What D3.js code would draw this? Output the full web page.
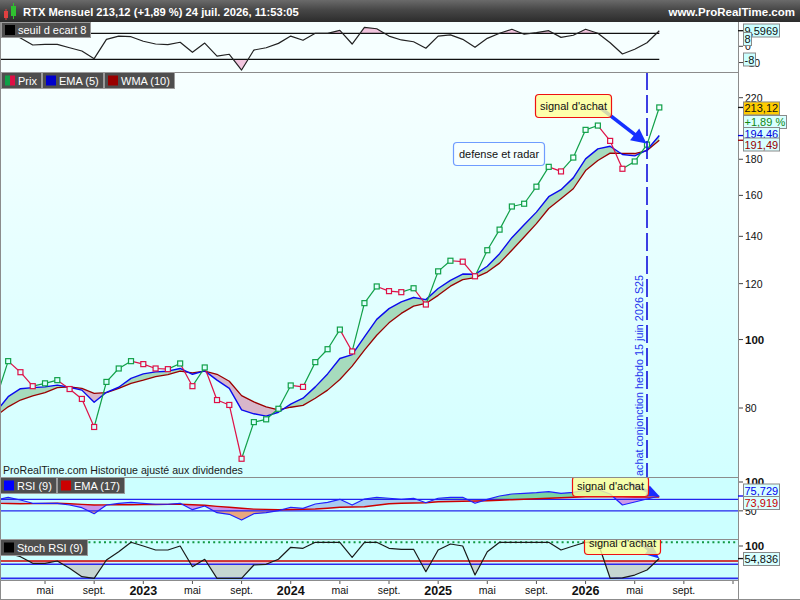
<!DOCTYPE html>
<html>
<head>
<meta charset="utf-8">
<script src="https://cdn.jsdelivr.net/npm/d3@7"></script>
<style>
  html, body { margin: 0; padding: 0; background: #fff; }
  svg { display: block; }
</style>
</head>
<body>
<svg id="chart" width="800" height="600"></svg>
<script>
// monthly bars, jan 2022 .. jul 2026
var months = [
  '2022-01','2022-02','2022-03','2022-04','2022-05','2022-06','2022-07','2022-08','2022-09','2022-10','2022-11','2022-12',
  '2023-01','2023-02','2023-03','2023-04','2023-05','2023-06','2023-07','2023-08','2023-09','2023-10','2023-11','2023-12',
  '2024-01','2024-02','2024-03','2024-04','2024-05','2024-06','2024-07','2024-08','2024-09','2024-10','2024-11','2024-12',
  '2025-01','2025-02','2025-03','2025-04','2025-05','2025-06','2025-07','2025-08','2025-09','2025-10','2025-11','2025-12',
  '2026-01','2026-02','2026-03','2026-04','2026-05','2026-06','2026-07'
];

var price = [
  82.3, 93.2, 89.9, 85.9, 86.7, 87.6, 85.1, 82.4, 75.2, 87.1, 91.0, 93.2,
  92.3, 91.0, 90.8, 92.5, 85.9, 91.3, 82.1, 80.8, 67.8, 76.4, 77.1, 79.8,
  86.1, 85.7, 92.9, 96.9, 103.3, 96.2, 112.6, 118.9, 117.1, 116.7, 118.2, 112.1,
  124.9, 129.3, 128.9, 122.9, 133.8, 143.1, 154.3, 155.7, 164.6, 175.6, 173.0, 181.0,
  198.1, 200.9, 191.1, 174.5, 178.7, 188.8, 213.12
];

var ema5 = [
  79.0, 83.0, 85.2, 85.5, 85.7, 86.2, 85.6, 84.8, 81.5, 84.2, 85.6, 88.1,
  89.4, 90.0, 90.2, 91.0, 89.3, 90.3, 87.6, 85.3, 79.5, 78.5, 77.9, 78.9,
  81.0, 82.6, 85.7, 89.4, 94.0, 95.2, 100.9, 106.8, 110.6, 113.1, 114.7, 113.9,
  118.1, 121.3, 123.8, 123.7, 127.0, 132.3, 139.4, 145.4, 151.5, 159.3, 163.0, 169.4,
  180.2, 186.2, 187.8, 182.8, 182.0, 185.5, 194.46
];

var wma10 = [
  77.9, 80.3, 82.1, 83.2, 84.1, 85.5, 85.7, 85.3, 83.9, 84.1, 85.3, 86.7,
  87.6, 88.6, 89.2, 90.2, 89.7, 90.2, 89.3, 87.3, 83.3, 81.6, 80.3, 79.5,
  80.2, 80.7, 82.6, 84.8, 87.8, 91.7, 96.6, 101.4, 105.6, 108.9, 111.5, 112.5,
  115.5, 119.0, 121.6, 122.4, 124.6, 128.3, 133.8, 139.7, 145.9, 153.3, 158.3, 163.5,
  173.5, 179.3, 183.6, 183.5, 183.4, 185.2, 191.49
];

var seuil = [
  3.0, 9.0, 5.1, 0.8, 1.2, 1.2, -0.9, -2.9, -7.6, 4.3, 6.3, 5.9,
  3.1, 1.4, 1.0, 2.5, -3.7, 2.0, -6.0, -4.9, -14.6, -2.3, -0.9, 1.8,
  6.3, 3.7, 8.0, 8.0, 9.8, 1.4, 11.7, 10.8, 6.3, 3.9, 2.8, -1.2,
  6.3, 7.0, 4.3, -0.6, 4.9, 8.0, 10.5, 7.4, 8.4, 9.6, 5.5, 6.8,
  10.5, 8.0, 2.2, -4.7, -1.8, 2.2, 9.5969
];

var rsi9 = [
  68.8, 73.5, 68.8, 63.1, 63.1, 63.1, 60.1, 55.5, 45.1, 60.1, 63.1, 64.8,
  63.1, 61.4, 61.4, 63.1, 52.0, 58.4, 46.8, 44.0, 34.1, 45.1, 46.8, 50.3,
  56.2, 54.4, 61.9, 64.8, 70.0, 60.1, 70.5, 73.5, 71.8, 70.0, 71.8, 64.1,
  71.8, 73.5, 73.5, 63.1, 70.0, 75.7, 79.2, 80.4, 81.5, 83.2, 80.4, 82.1,
  86.1, 87.0, 79.2, 60.1, 65.3, 70.5, 75.729
];

var rsiEma17 = [
  63.1, 62.7, 62.4, 62.6, 62.7, 63.1, 62.2, 61.2, 60.1, 60.3, 60.5, 60.7,
  60.8, 61.0, 61.2, 61.4, 60.5, 59.6, 57.7, 56.2, 54.4, 53.0, 52.5, 52.0,
  52.3, 52.9, 53.2, 54.6, 56.2, 56.7, 57.2, 59.8, 62.2, 63.1, 63.6, 64.1,
  65.7, 66.2, 66.7, 67.1, 67.6, 68.3, 69.3, 70.0, 70.9, 71.8, 72.6, 73.5,
  74.2, 74.5, 74.5, 74.2, 74.0, 73.8, 73.919
];

var stochRsi = [
  80, 70, 60, 41.7, 41.7, 48, 27.8, 4.4, 0, 50.8, 73.9, 100,
  89.7, 78.6, 78.6, 89.7, 32.2, 52.8, 0, 0, 0, 36.9, 38.9, 52.8,
  86.1, 83.3, 100, 100, 100, 58.3, 100, 100, 83.3, 80.6, 80.6, 18.3,
  78.6, 95.3, 89.7, 9.2, 73.9, 100, 100, 100, 100, 100, 78.6, 89.7,
  100, 100, 0, 1, 9, 23, 54.836
];

// x axis ticks (bar index) and their labels
var tickIdx = [4, 8, 12, 16, 20, 24, 28, 32, 36, 40, 44, 48, 52, 56, 60];
var tickLabels = ['mai', 'sept.', '2023', 'mai', 'sept.', '2024', 'mai', 'sept.', '2025', 'mai', 'sept.', '2026', 'mai', 'sept.', ''];

var priceTicks = [80, 100, 120, 140, 160, 180, 220];
var seuilTicks = [0, -10];
var seuilLevels = [8, -8];
var rsiLevels = [70, 50];
var stochLevels = {top: 100, mid: 48, low: 39, zero: 0};

(function() {
  var AX = 738
      , font = '"Liberation Sans", Arial, sans-serif'
      , svg = d3.select('#chart').attr('font-family', font).attr('font-size', 11)
      , defs = svg.append('defs')
      , n = months.length
      , idx = d3.range(n)
      , last = n - 1
      ;

  var P1 = {top: 22, bottom: 72}
      , P2 = {top: 72, bottom: 477}
      , P3 = {top: 477, bottom: 539}
      , P4 = {top: 539, bottom: 580}
      ;

  var x = d3.scaleLinear().domain([12, 60]).range([143.3, 733]);
  var yS = d3.scaleLinear().domain([-8, 8]).range([59.3, 33.3]);
  var yM = d3.scaleLog().domain([80, 220]).range([408, 97.7]);
  var yR = d3.scaleLinear().domain([0, 100]).range([539.7, 482]);
  var yT = d3.scaleLinear().domain([0, 100]).range([578.3, 542.3]);

  function fr(v, d) { return v.toFixed(d).replace('.', ','); }

  function grad(id, y1, y2, stops) {
    var g = defs.append('linearGradient').attr('id', id)
        .attr('gradientUnits', 'userSpaceOnUse')
        .attr('x1', 0).attr('x2', 0).attr('y1', y1).attr('y2', y2);
    stops.forEach(function(s) {
      g.append('stop').attr('offset', s[0]).attr('stop-color', s[1]);
    });
  }

  function clip(id, p) {
    defs.append('clipPath').attr('id', id)
      .append('rect').attr('x', 0).attr('y', p.top).attr('width', AX).attr('height', p.bottom - p.top);
  }

  // split a band between two pixel series into runs of same sign
  function splitBands(xs, ya, yb) {
    var runs = [], cur = null;
    for (var i = 0; i < xs.length; i++) {
      var s = ya[i] <= yb[i] ? 1 : -1;
      if (!cur) { cur = {s: s, pts: [[xs[i], ya[i], yb[i]]]}; runs.push(cur); continue; }
      if (s !== cur.s) {
        var j = i - 1, d0 = ya[j] - yb[j], d1 = ya[i] - yb[i], t = d0 / (d0 - d1);
        var cx = xs[j] + t * (xs[i] - xs[j]), cy = ya[j] + t * (ya[i] - ya[j]);
        cur.pts.push([cx, cy, cy]);
        cur = {s: s, pts: [[cx, cy, cy]]};
        runs.push(cur);
      }
      cur.pts.push([xs[i], ya[i], yb[i]]);
    }
    return runs;
  }

  var band = d3.area().x(function(p) { return p[0]; }).y0(function(p) { return p[2]; }).y1(function(p) { return p[1]; });

  function drawBands(g, ya, yb, colUp, colDown) {
    var xs = idx.map(x);
    splitBands(xs, ya, yb).forEach(function(r) {
      var c = r.s > 0 ? colUp : colDown;
      if (c) g.append('path').attr('d', band(r.pts)).attr('fill', c).attr('stroke', 'none');
    });
  }

  function line(g, vals, y, color, w) {
    g.append('path')
      .attr('d', d3.line().x(function(d, i) { return x(i); }).y(function(d) { return y(d); })(vals))
      .attr('fill', 'none').attr('stroke', color).attr('stroke-width', w || 1.3).attr('stroke-linejoin', 'round');
  }

  function hline(g, yy, x1, color, w, dash) {
    g.append('line').attr('x1', 0).attr('x2', x1).attr('y1', yy).attr('y2', yy)
      .attr('stroke', color).attr('stroke-width', w || 1.2).attr('stroke-dasharray', dash || null);
  }

  function legend(x0, y0, h, items) {
    var cx = x0;
    items.forEach(function(it) {
      var g = svg.append('g');
      var r = g.append('rect').attr('x', cx + 0.5).attr('y', y0 + 0.5).attr('height', h)
          .attr('fill', '#4e4e4e').attr('stroke', '#9a9a9a');
      var sq = g.append('g');
      var sy = y0 + (h - 10) / 2 + 0.5;
      if (it.colors.length === 2) {
        sq.append('rect').attr('x', cx + 4).attr('y', sy).attr('width', 5).attr('height', 10).attr('fill', it.colors[0]);
        sq.append('rect').attr('x', cx + 9).attr('y', sy).attr('width', 5).attr('height', 10).attr('fill', it.colors[1]);
      } else {
        sq.append('rect').attr('x', cx + 4).attr('y', sy).attr('width', 10).attr('height', 10).attr('fill', it.colors[0]);
      }
      var t = g.append('text').attr('x', cx + 17).attr('y', y0 + h / 2 + 4.5).attr('fill', '#fff').text(it.label);
      var w = Math.round(17 + t.node().getComputedTextLength() + 4);
      r.attr('width', w);
      cx += w + 1;
    });
  }

  function valBox(yc, txt, fill, color, tickColor, tickY) {
    var g = svg.append('g');
    if (tickColor) {
      g.append('line').attr('x1', AX).attr('x2', 743).attr('y1', tickY).attr('y2', tickY)
        .attr('stroke', tickColor).attr('stroke-width', 1.3);
    }
    var r = g.append('rect').attr('x', 743.5).attr('y', yc - 6.5).attr('height', 13)
        .attr('fill', fill).attr('stroke', '#8a8a8a');
    var t = g.append('text').attr('x', 744.5).attr('y', yc + 4).attr('fill', color).text(txt);
    r.attr('width', Math.round(t.node().getComputedTextLength() + 2));
  }

  function axisLabel(yy, txt, bold) {
    svg.append('line').attr('x1', AX + 1).attr('x2', 743).attr('y1', yy).attr('y2', yy).attr('stroke', '#444');
    svg.append('text').attr('x', 745).attr('y', yy + 4).attr('fill', '#111')
      .attr('font-weight', bold ? 'bold' : null).attr('font-size', bold ? 11.5 : 10.5).text(txt);
  }

  function noteBox(g, x0, y0, w, h, txt, fill, stroke, ty) {
    g.append('rect').attr('x', x0 + 0.5).attr('y', y0 + 0.5).attr('width', w).attr('height', h).attr('rx', 3.5)
      .attr('fill', fill).attr('fill-opacity', 0.82).attr('stroke', stroke).attr('stroke-width', 1.2);
    g.append('text').attr('x', x0 + w / 2 + 0.5).attr('y', ty || (y0 + h / 2 + 4)).attr('text-anchor', 'middle')
      .attr('fill', '#111').text(txt);
  }

  function arrow(g, x0, y0, x1, y1, len, half, color, w) {
    var a = Math.atan2(y1 - y0, x1 - x0)
        , bx = x1 - len * Math.cos(a), by = y1 - len * Math.sin(a)
        , s = Math.sin(a), c = Math.cos(a)
        ;
    g.append('line').attr('x1', x0).attr('y1', y0).attr('x2', bx + len * 0.3 * c).attr('y2', by + len * 0.3 * s)
      .attr('stroke', color).attr('stroke-width', w);
    g.append('path')
      .attr('d', 'M' + x1 + ',' + y1 + 'L' + (bx + half * s) + ',' + (by - half * c) + 'L' + (bx - half * s) + ',' + (by + half * c) + 'Z')
      .attr('fill', color);
  }

  // gradients
  grad('hdr', 0, 22, [[0, '#6a6a6a'], [0.45, '#474747'], [1, '#2c2c2c']]);
  grad('bgMain', P2.top, P2.bottom, [[0, '#f7ffff'], [1, '#d2ffff']]);
  var o70 = (yR(rsiLevels[0]) - P3.top) / (P3.bottom - P3.top)
      , o50 = (yR(rsiLevels[1]) - P3.top) / (P3.bottom - P3.top)
      , oLow = (yT(stochLevels.low) - P4.top) / (P4.bottom - P4.top)
      ;
  grad('rsiUp', P3.top, P3.bottom, [[0, '#5cc890'], [o70, '#7fd6a8'], [o70, '#a8ccf2'], [1, '#a8ccf2']]);
  grad('rsiDown', P3.top, P3.bottom, [[0, '#d8a4e0'], [o50, '#c794ec'], [o50, '#e9a77e'], [1, '#e9a77e']]);
  grad('stochFill', P4.top, P4.bottom, [[0, '#e6c2cc'], [oLow, '#e6c2cc'], [oLow, '#c6d6d2'], [1, '#c6d6d2']]);
  clip('c1', P1); clip('c2', P2); clip('c3', P3); clip('c4', P4);

  // backgrounds
  svg.append('rect').attr('width', 800).attr('height', 600).attr('fill', '#fff');
  svg.append('rect').attr('x', 0).attr('y', P1.top).attr('width', AX).attr('height', P1.bottom - P1.top).attr('fill', '#f6ffff');
  svg.append('rect').attr('x', 0).attr('y', P2.top).attr('width', AX).attr('height', P2.bottom - P2.top).attr('fill', 'url(#bgMain)');
  svg.append('rect').attr('x', 0).attr('y', P3.top).attr('width', AX).attr('height', P3.bottom - P3.top).attr('fill', '#ccffff');
  svg.append('rect').attr('x', 0).attr('y', P4.top).attr('width', AX).attr('height', P4.bottom - P4.top).attr('fill', '#ccffff');

  // --- seuil d ecart panel
  var g1 = svg.append('g').attr('clip-path', 'url(#c1)');
  var ys = seuil.map(yS);
  drawBands(g1, ys, idx.map(function() { return yS(seuilLevels[0]); }), '#f2c6df', null);
  drawBands(g1, idx.map(function() { return yS(seuilLevels[1]); }), ys, '#f2c6df', null);
  seuilLevels.forEach(function(l) { hline(g1, yS(l), x(last), '#111', 1.3); });
  line(g1, seuil, yS, '#222', 1.2);

  // --- main panel
  var g2 = svg.append('g').attr('clip-path', 'url(#c2)');
  drawBands(g2, ema5.map(yM), wma10.map(yM), '#a6dbbd', '#d8b6ca');
  line(g2, wma10, yM, '#990000', 1.3);
  line(g2, ema5, yM, '#0a0aee', 1.4);

  var up = function(i) { return i === 0 || price[i] >= price[i - 1]; };
  var green = '#10a048', red = '#de1046';
  idx.slice(1).forEach(function(i) {
    g2.append('line').attr('x1', x(i - 1)).attr('y1', yM(price[i - 1])).attr('x2', x(i)).attr('y2', yM(price[i]))
      .attr('stroke', up(i) ? green : red).attr('stroke-width', 1.2);
  });
  g2.selectAll('rect.mk').data(idx).enter().append('rect').attr('class', 'mk')
    .attr('x', function(i) { return x(i) - 2.5; }).attr('y', function(i) { return yM(price[i]) - 2.5; })
    .attr('width', 5).attr('height', 5)
    .attr('fill', 'url(#bgMain)').attr('stroke', function(i) { return up(i) ? green : red; }).attr('stroke-width', 1.2);

  // weekly signal marker
  var sx = x(last - 1);
  g2.append('line').attr('x1', sx).attr('x2', sx).attr('y1', P2.top).attr('y2', P2.bottom)
    .attr('stroke', '#1111dd').attr('stroke-width', 1.6).attr('stroke-dasharray', '18,5');
  g2.append('text').attr('transform', 'translate(' + (sx - 4.5) + ',' + (P2.bottom - 1) + ') rotate(-90)')
    .attr('fill', '#2233ee').attr('font-size', 10.8).text('achat conjonction hebdo 15 juin 2026 S25');

  arrow(g2, 598, 106, sx - 0.5, yM(price[last - 1]) - 1, 15, 7.5, '#1530ff', 3.5);
  noteBox(g2, 535, 94, 76, 23, 'signal d\'achat', '#ffff99', '#ee1111');
  noteBox(g2, 453, 142, 91, 23, 'defense et radar', '#f6ffff', '#6f9cff');

  g2.append('text').attr('x', 3).attr('y', P2.bottom - 3.5).attr('fill', '#1a1a1a').attr('font-size', 10.6)
    .text('ProRealTime.com  Historique ajusté aux dividendes');

  // --- RSI panel
  var g3 = svg.append('g').attr('clip-path', 'url(#c3)');
  drawBands(g3, rsi9.map(yR), rsiEma17.map(yR), 'url(#rsiUp)', 'url(#rsiDown)');
  rsiLevels.forEach(function(l) { hline(g3, yR(l), AX, '#2424ee', 1.3); });
  line(g3, rsiEma17, yR, '#cc0000', 1.4);
  line(g3, rsi9, yR, '#2020ff', 1.2);
  arrow(g3, 628, 483, x(last), yR(rsi9[last]), 13, 6, '#1a2cff', 3);
  noteBox(g3, 572, 476, 76, 20, 'signal d\'achat', '#ffff99', '#ee1111', 490);

  // --- Stoch RSI panel
  var g4 = svg.append('g').attr('clip-path', 'url(#c4)');
  drawBands(g4, idx.map(function() { return yT(stochLevels.mid); }), stochRsi.map(yT), 'url(#stochFill)', null);
  hline(g4, yT(stochLevels.top), AX, '#119944', 2, '2,3.2');
  hline(g4, yT(stochLevels.mid), AX, '#cc0000', 1.3);
  hline(g4, yT(stochLevels.low), AX, '#2a2aee', 1.3);
  hline(g4, yT(stochLevels.zero), AX, '#2a2aee', 1.8);
  line(g4, stochRsi, yT, '#1a1a1a', 1.2);
  arrow(g4, 636, 539, x(last), yT(stochRsi[last]), 14, 6, '#1a2cff', 3);
  noteBox(g4, 584, 533, 76, 21, 'signal d\'achat', '#ffff99', '#ee1111', 546.5);

  // panel frames
  [P1.bottom, P2.bottom, P3.bottom, P4.bottom].forEach(function(yy) {
    svg.append('line').attr('x1', 0).attr('x2', AX).attr('y1', yy + 0.5).attr('y2', yy + 0.5).attr('stroke', '#8c8c8c');
  });
  svg.append('line').attr('x1', 0.5).attr('x2', 0.5).attr('y1', P1.top).attr('y2', 600).attr('stroke', '#8c8c8c');
  svg.append('line').attr('x1', AX + 0.5).attr('x2', AX + 0.5).attr('y1', P1.top).attr('y2', 600).attr('stroke', '#8c8c8c');
  svg.append('line').attr('x1', 0).attr('x2', 800).attr('y1', 599.5).attr('y2', 599.5).attr('stroke', '#8c8c8c');

  // legends
  legend(1, P1.top, 15, [{label: 'seuil d ecart 8', colors: ['#000']}]);
  legend(1, P2.top, 16, [
    {label: 'Prix', colors: [green, red]},
    {label: 'EMA (5)', colors: ['#0000cc']},
    {label: 'WMA (10)', colors: ['#990000']}
  ]);
  legend(0, P3.top, 16, [
    {label: 'RSI (9)', colors: ['#0000ff']},
    {label: 'EMA (17)', colors: ['#cc0000']}
  ]);
  legend(0, P4.top, 16, [{label: 'Stoch RSI (9)', colors: ['#000']}]);

  // right axes
  priceTicks.forEach(function(v) { axisLabel(yM(v), String(v), v === 100); });
  seuilTicks.forEach(function(v) { axisLabel(yS(v), String(v), false); });
  axisLabel(Math.max(yR(100), P3.top + 5), '100', true);
  axisLabel(yR(50), '50', false);
  axisLabel(Math.max(yT(100), P4.top + 7), '100', true);

  valBox(yM(price[last]) + 1, fr(price[last], 2), '#ffcc00', '#111', '#111', yM(price[last]));
  valBox(122, '+1,89 %', '#d8ffff', '#118811');
  valBox(134, fr(ema5[last], 2), '#d8ffff', '#0000dd', '#0000dd', yM(ema5[last]));
  valBox(144.5, fr(wma10[last], 2), '#d8ffff', '#990000', '#990000', yM(wma10[last]));

  valBox(30.5, fr(seuil[last], 4), '#ccffff', '#111', '#111', yS(seuil[last]));
  valBox(39, '8', '#ccffff', '#111');
  valBox(59.5, '-8', '#ccffff', '#111');

  valBox(490.5, fr(rsi9[last], 3), '#d8ffff', '#0000ee', '#0000ee', yR(rsi9[last]));
  valBox(503, fr(rsiEma17[last], 3), '#d8ffff', '#cc0000');
  valBox(559, fr(stochRsi[last], 3), '#d8ffff', '#111', '#111', yT(stochRsi[last]));

  // x axis
  tickIdx.forEach(function(t, k) {
    var tx = x(t), lab = tickLabels[k], yr = /^\d{4}$/.test(lab);
    svg.append('line').attr('x1', tx).attr('x2', tx).attr('y1', P4.bottom + 1).attr('y2', P4.bottom + 4).attr('stroke', '#555');
    if (lab) {
      svg.append('text').attr('x', tx).attr('y', yr ? 595 : 594).attr('text-anchor', 'middle').attr('fill', '#111')
        .attr('font-weight', yr ? 'bold' : null).attr('font-size', yr ? 12.5 : 10.5).text(lab);
    }
  });

  // header
  svg.append('rect').attr('width', 800).attr('height', P1.top).attr('fill', 'url(#hdr)');
  var ic = svg.append('g');
  ic.append('line').attr('x1', 6).attr('x2', 6).attr('y1', 9).attr('y2', 20).attr('stroke', '#e04040');
  ic.append('rect').attr('x', 4).attr('y', 11).attr('width', 4).attr('height', 7).attr('fill', '#e04040');
  ic.append('line').attr('x1', 13.5).attr('x2', 13.5).attr('y1', 3).attr('y2', 19).attr('stroke', '#30c030');
  ic.append('rect').attr('x', 11).attr('y', 6).attr('width', 5).attr('height', 10).attr('fill', '#30c030');
  svg.append('text').attr('x', 23).attr('y', 16).attr('fill', '#fff').attr('font-weight', 'bold').attr('font-size', 11.2)
    .text('RTX Mensuel ' + fr(price[last], 2) + ' (+1,89 %) 24 juil. 2026, 11:53:05');
  svg.append('text').attr('x', 795).attr('y', 16).attr('text-anchor', 'end').attr('fill', '#fff')
    .attr('font-weight', 'bold').attr('font-size', 11.5).text('www.ProRealTime.com');
})();
</script>
</body>
</html>
